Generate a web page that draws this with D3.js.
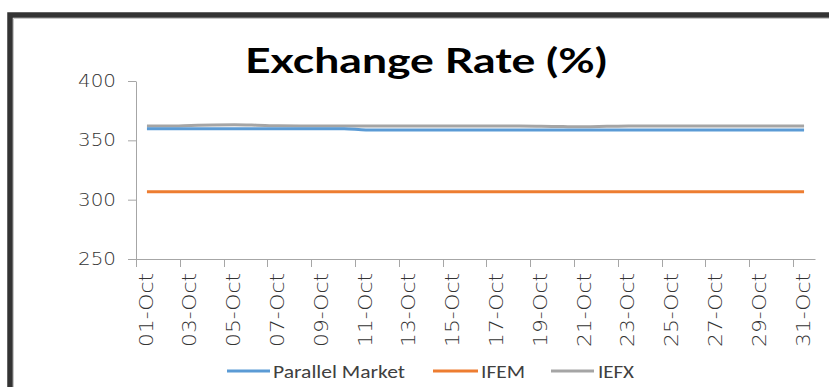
<!DOCTYPE html>
<html>
<head>
<meta charset="utf-8">
<script src="https://cdn.jsdelivr.net/npm/d3@7/dist/d3.min.js"></script>
<style>
  html, body { margin: 0; padding: 0; background: #fff; }
  svg { display: block; }
</style>
</head>
<body>
<svg id="chart" width="829" height="387"></svg>
<script>
// ---- data ----
const days = ["01-Oct","02-Oct","03-Oct","04-Oct","05-Oct","06-Oct","07-Oct","08-Oct","09-Oct","10-Oct",
  "11-Oct","12-Oct","13-Oct","14-Oct","15-Oct","16-Oct","17-Oct","18-Oct","19-Oct","20-Oct",
  "21-Oct","22-Oct","23-Oct","24-Oct","25-Oct","26-Oct","27-Oct","28-Oct","29-Oct","30-Oct","31-Oct"];
const parallelMarket = [359.8,359.8,359.8,359.8,359.8,359.8,359.8,359.8,359.8,359.8,
  358.7,358.7,358.7,358.7,358.7,358.7,358.7,358.7,358.7,358.7,
  358.7,358.7,358.7,358.7,358.7,358.7,358.7,358.7,358.7,358.7,358.7];
const ifem = [306.7,306.7,306.7,306.7,306.7,306.7,306.7,306.7,306.7,306.7,
  306.7,306.7,306.7,306.7,306.7,306.7,306.7,306.7,306.7,306.7,
  306.7,306.7,306.7,306.7,306.7,306.7,306.7,306.7,306.7,306.7,306.7];
const iefx = [362.0,362.0,362.5,363.0,363.2,362.8,362.2,362.1,362.1,362.1,
  362.1,362.1,362.1,362.1,362.1,362.1,362.1,362.1,361.9,361.6,
  361.4,361.8,362.1,362.1,362.1,362.1,362.1,362.1,362.1,362.1,362.1];
const yTicks = [250, 300, 350, 400];
const seriesNames = ["Parallel Market", "IFEM", "IEFX"];
const titleText = "Exchange Rate (%)";

// ---- styles ----
const colors = {"Parallel Market": "#5b9bd5", "IFEM": "#ed7d31", "IEFX": "#a5a5a5"};
const axisColor = "#a6a6a6";
const thinFont = "'Century Gothic', 'URW Gothic', 'DejaVu Sans', sans-serif";
const legendFont = "Calibri, Carlito, 'Liberation Sans', sans-serif";

const svg = d3.select("#chart");

// frame
svg.append("rect").attr("x", 10).attr("y", 15).attr("width", 900).attr("height", 500)
  .attr("fill", "none").attr("stroke", "#333").attr("stroke-width", 5.5);
svg.append("path").attr("d", "M13.5,500 V18.5 H829")
  .attr("fill", "none").attr("stroke", "#c8c8c8").attr("stroke-width", 1);

// scales
const x = d3.scaleBand().domain(days).range([136, 815]).paddingInner(0).paddingOuter(0);
const y = d3.scaleLinear().domain([250, 400]).range([259, 81]);

// title
svg.append("text").attr("x", 426).attr("y", 73)
  .attr("text-anchor", "middle")
  .attr("font-family", "'Century Gothic', Lato, 'DejaVu Sans', sans-serif")
  .attr("font-weight", 700).attr("font-size", 35).attr("fill", "#000")
  .attr("textLength", 362).attr("lengthAdjust", "spacingAndGlyphs")
  .text(titleText);

// y axis
const yAxis = svg.append("g").attr("transform", "translate(136,0)")
  .call(d3.axisLeft(y).tickValues(yTicks).tickSize(8).tickSizeOuter(0).tickPadding(12));
yAxis.select(".domain").attr("stroke", axisColor);
yAxis.selectAll(".tick line").attr("stroke", axisColor);
yAxis.selectAll(".tick text")
  .attr("font-family", thinFont).attr("font-weight", 200).attr("font-size", 17)
  .attr("fill", "#333").attr("textLength", 38).attr("lengthAdjust", "spacingAndGlyphs");

// x axis (labels at every other category centre)
const labelDays = days.filter((d, i) => i % 2 === 0);
const xAxis = svg.append("g").attr("transform", "translate(0,259)")
  .call(d3.axisBottom(x).tickValues(labelDays).tickSize(0).tickSizeOuter(0).tickPadding(0));
xAxis.select(".domain").attr("stroke", axisColor);
xAxis.selectAll(".tick text")
  .attr("font-family", thinFont).attr("font-weight", 200).attr("font-size", 19)
  .attr("fill", "#333")
  .attr("text-anchor", "end")
  .attr("transform", "translate(-1,14) rotate(-90)")
  .attr("dy", "0.35em").attr("x", 0).attr("y", 0)
  .attr("textLength", 74).attr("lengthAdjust", "spacingAndGlyphs");

// tick marks at category boundaries every 2 categories
svg.append("g").selectAll("line").data(labelDays).join("line")
  .attr("x1", d => Math.round(x(d)) + 0.5).attr("x2", d => Math.round(x(d)) + 0.5)
  .attr("y1", 259).attr("y2", 267)
  .attr("stroke", axisColor).attr("stroke-width", 1);

// lines
const series = [
  {name: "Parallel Market", values: parallelMarket},
  {name: "IFEM", values: ifem},
  {name: "IEFX", values: iefx}
];
const line = d3.line()
  .x((v, i) => x(days[i]) + x.bandwidth() / 2)
  .y(v => y(v))
  .curve(d3.curveMonotoneX);
// draw order: IEFX is behind? draw parallel over gray
[series[2], series[1], series[0]].forEach(s => {
  svg.append("path").datum(s.values)
    .attr("fill", "none").attr("stroke", colors[s.name])
    .attr("stroke-width", 3).attr("stroke-linejoin", "round")
    .attr("d", line);
});

// legend
const legendItems = [
  {name: "Parallel Market", x1: 227, x2: 270, tx: 273, tl: 132},
  {name: "IFEM", x1: 433, x2: 478, tx: 481, tl: 44},
  {name: "IEFX", x1: 551, x2: 594, tx: 598, tl: 36}
];
const lg = svg.append("g");
legendItems.forEach(it => {
  lg.append("line").attr("x1", it.x1).attr("x2", it.x2).attr("y1", 371).attr("y2", 371)
    .attr("stroke", colors[it.name]).attr("stroke-width", 3);
  lg.append("text").attr("x", it.tx).attr("y", 377.5)
    .attr("font-family", legendFont).attr("font-size", 18.5).attr("fill", "#404040")
    .attr("textLength", it.tl).attr("lengthAdjust", "spacingAndGlyphs")
    .text(it.name);
});
</script>
</body>
</html>
